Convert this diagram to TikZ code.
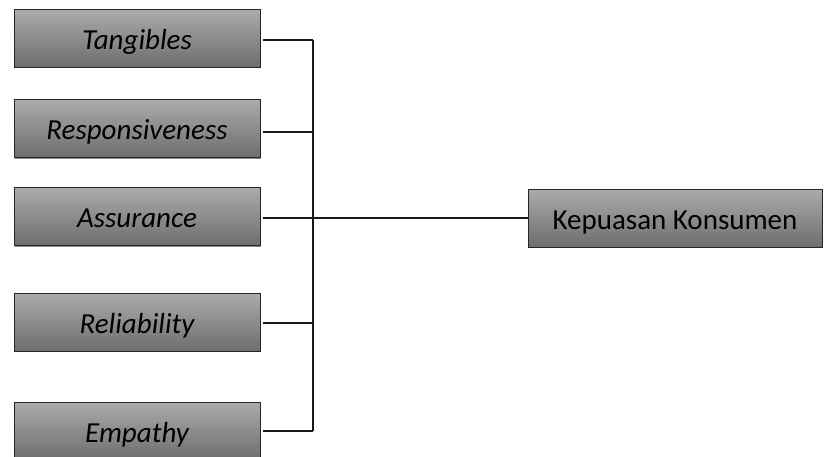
\documentclass[tikz,border=0pt]{standalone}
\usepackage{fontspec}
\setmainfont{Carlito}
\usetikzlibrary{shadows}
\begin{document}
\begin{tikzpicture}[x=1pt,y=-1pt,
  boxbase/.style={draw=black!85, line width=1pt, top color=black!33, bottom color=black!57,
    inner sep=0pt, minimum height=58pt, text height=24pt, text depth=2pt,
    drop shadow={shadow xshift=1.2pt, shadow yshift=-1.2pt, opacity=0.45, fill=black}},
  dim/.style={boxbase, minimum width=246pt, font=\fontsize{29}{33}\selectfont\itshape},
  goal/.style={boxbase, minimum width=294pt, font=\fontsize{29}{33}\selectfont},
  wire/.style={draw=black!90, line width=1.2pt}]
\clip (0,0) rectangle (824,456);
\fill[white] (0,0) rectangle (824,456);
% quality dimensions
\node[dim] (t) at (137,38) {Tangibles};
\node[dim] (r) at (137,128.5) {Responsiveness};
\node[dim] (a) at (137,216.5) {Assurance};
\node[dim] (l) at (137,322) {Reliability};
\node[dim] (e) at (137,431) {Empathy};
% outcome
\node[goal] (k) at (675,218) {Kepuasan Konsumen};
% collecting bus
\coordinate (bt) at (313,40);
\coordinate (bb) at (313,431);
\draw[wire] (bt) -- (bb);
\draw[wire] ([xshift=2pt,yshift=-2pt]t.east) -- ([yshift=-2pt]t.east -| bt);
\draw[wire] ([xshift=2pt,yshift=-3.5pt]r.east) -- ([yshift=-3.5pt]r.east -| bt);
\draw[wire] ([xshift=2pt,yshift=-1.5pt]a.east) -- ([yshift=-1.5pt]a.east -| bt);
\draw[wire] ([xshift=2pt,yshift=-1pt]l.east) -- ([yshift=-1pt]l.east -| bt);
\draw[wire] ([xshift=2pt]e.east) -- (e.east -| bt);
\draw[wire] (k.west -| bt) -- (k.west);
\end{tikzpicture}
\end{document}
